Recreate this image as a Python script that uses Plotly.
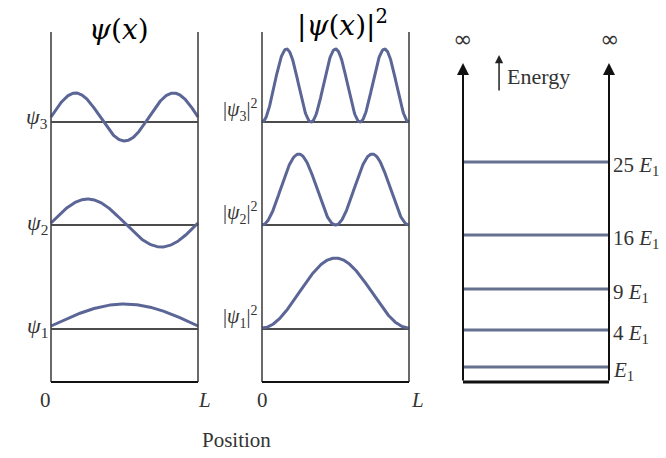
import numpy as np
import plotly.graph_objects as go

# ---------------- data ----------------
quantum_numbers = [1, 2, 3]
state_baselines = [53, 157, 260]          # height of each state's zero line (panel units)
psi_amplitudes = [22, 24, 24]
psi_offsets = [3, 2, 5]
prob_peak_heights = [70, 71, 73]
prob_offsets = [1, 0, 0]
energy_multiples = [1, 4, 9, 16, 25]
energy_level_heights = [15, 52, 93, 147, 220]  # drawn (schematic) heights
x_tick_labels = ["0", "<i>L</i>"]
box_length = 1.0
panel_top = 350
wall_arrow_top = 319

# ---------------- geometry helpers ----------------
W, H = 666, 458
PAD = 0.12
Y_RANGE = [-20, 360]
Y_BOTTOM_PX, Y_TOP_PX = 382, 32
unit_px = (Y_BOTTOM_PX - Y_TOP_PX) / panel_top
ydom = [1 - (Y_BOTTOM_PX + (0 - Y_RANGE[0]) * unit_px) / H,
        1 - (Y_BOTTOM_PX - Y_RANGE[1] * unit_px) / H]


def xdomain(x0px, x1px):
    w = x1px - x0px
    return [(x0px - PAD * w) / W, (x1px + PAD * w) / W]


panels = {"x": xdomain(51, 198), "x2": xdomain(262, 409), "x3": xdomain(463, 609)}

CURVE = "#5b6696"
LEVEL = "#66708f"
SERIF = "Liberation Serif, Times New Roman, serif"

fig = go.Figure()


def line(xs, ys, ax, color, width):
    fig.add_trace(go.Scatter(x=xs, y=ys, mode="lines", xaxis=ax, yaxis=ax.replace("x", "y"),
                             line=dict(color=color, width=width), hoverinfo="skip",
                             showlegend=False))


xs = np.linspace(0, box_length, 300)

# ---------------- panel 1: psi(x) ----------------
for n, base, amp, off in zip(quantum_numbers, state_baselines, psi_amplitudes, psi_offsets):
    line([0, box_length], [base, base], "x", "#111111", 1.6)
    line(xs, base + off + amp * np.sin(n * np.pi * xs / box_length), "x", CURVE, 3)
# ---------------- panel 2: |psi|^2 ----------------
for n, base, pk, off in zip(quantum_numbers, state_baselines, prob_peak_heights, prob_offsets):
    line([0, box_length], [base, base], "x2", "#111111", 1.6)
    line(xs, base + off + pk * np.sin(n * np.pi * xs / box_length) ** 2, "x2", CURVE, 3)

for ax in ["x", "x2"]:
    line([0, 0], [0, panel_top], ax, "#444444", 1.6)
    line([box_length, box_length], [0, panel_top], ax, "#444444", 1.6)
    line([0, box_length], [0, 0], ax, "#111111", 2)

# ---------------- panel 3: energy levels ----------------
for h in energy_level_heights:
    line([0, box_length], [h, h], "x3", LEVEL, 3)
line([0, box_length], [0, 0], "x3", "#111111", 3)

layout_axes = {}
for ax, dom in panels.items():
    key = "xaxis" if ax == "x" else "xaxis" + ax[1:]
    ykey = "yaxis" if ax == "x" else "yaxis" + ax[1:]
    layout_axes[key] = dict(domain=dom, range=[-PAD * box_length, box_length * (1 + PAD)],
                            visible=False, fixedrange=True, anchor=ax.replace("x", "y"))
    layout_axes[ykey] = dict(domain=ydom, range=Y_RANGE, visible=False, fixedrange=True,
                             anchor=ax)

ann = []
# wall arrows
for xv in [0, box_length]:
    ann.append(dict(x=xv, y=wall_arrow_top, ax=xv, ay=0, xref="x3", yref="y3", axref="x3",
                    ayref="y3", showarrow=True, arrowhead=2, arrowsize=1.2, arrowwidth=2,
                    arrowcolor="#111111", text="", standoff=0))
    ann.append(dict(x=xv, y=wall_arrow_top + 24, xref="x3", yref="y3", text="∞",
                    showarrow=False, font=dict(family="DejaVu Sans", size=23, color="#333")))
# energy arrow
ann.append(dict(x=0.247, y=327, ax=0.247, ay=290, xref="x3", yref="y3", axref="x3", ayref="y3",
                showarrow=True, arrowhead=2, arrowsize=1.1, arrowwidth=1.5, arrowcolor="#222",
                text="", standoff=0))
ann.append(dict(x=0.29, y=306, xref="x3", yref="y3", text="Energy", showarrow=False,
                xanchor="left", yanchor="middle", font=dict(family=SERIF, size=22, color="#333")))
for m, h in zip(energy_multiples, energy_level_heights):
    label = ("" if m == 1 else f"{m} ") + "<i>E</i><sub>1</sub>"
    ann.append(dict(x=box_length, y=h, xref="x3", yref="y3", text=label, showarrow=False,
                    xanchor="left", yanchor="middle", xshift=2, yshift=-4,
                    font=dict(family=SERIF, size=21, color="#333")))

# state labels
for n, base, off in zip(quantum_numbers, state_baselines, psi_offsets):
    ann.append(dict(x=0, y=base + off - 1, xref="x", yref="y", text=f"<i>ψ</i><sub>{n}</sub>",
                    showarrow=False, xanchor="right", yanchor="middle", xshift=-1,
                    font=dict(family=SERIF, size=22, color="#333")))
    ann.append(dict(x=0, y=base + 12, xref="x2", yref="y2",
                    text=f"|<i>ψ</i><sub>{n}</sub>|<sup>2</sup>",
                    showarrow=False, xanchor="right", yanchor="middle", xshift=-3,
                    font=dict(family=SERIF, size=20, color="#333")))

# x tick labels
for ax, shifts in [("x", (-6, 6)), ("x2", (0, 8))]:
    for val, lab, sh in zip([0, box_length], x_tick_labels, shifts):
        ann.append(dict(x=val, y=-4, xref=ax, yref=ax.replace("x", "y"), text=lab,
                        showarrow=False, yanchor="top", xshift=sh,
                        font=dict(family=SERIF, size=21, color="#333")))

# titles and axis title
ann.append(dict(x=0.46, y=panel_top, xref="x", yref="y", text="<i>ψ</i>(<i>x</i>)",
                showarrow=False, yanchor="middle", yshift=3,
                font=dict(family="DejaVu Serif", size=28, color="#000")))
ann.append(dict(x=0.55, y=panel_top, xref="x2", yref="y2", text="|<i>ψ</i>(<i>x</i>)|<sup>2</sup>",
                showarrow=False, yanchor="middle", yshift=9,
                font=dict(family="DejaVu Serif", size=28, color="#000")))
ann.append(dict(x=236 / W, y=1 - 440 / H, xref="paper", yref="paper", text="Position",
                showarrow=False, xanchor="center", yanchor="middle",
                font=dict(family=SERIF, size=21, color="#333")))

fig.update_layout(width=W, height=H, margin=dict(l=0, r=0, t=0, b=0),
                  paper_bgcolor="white", plot_bgcolor="rgba(0,0,0,0)",
                  annotations=ann, showlegend=False, **layout_axes)

fig.write_html("out.html", config={"displayModeBar": False},
               post_script="document.body.style.margin='0px';document.body.style.overflow='hidden';")
